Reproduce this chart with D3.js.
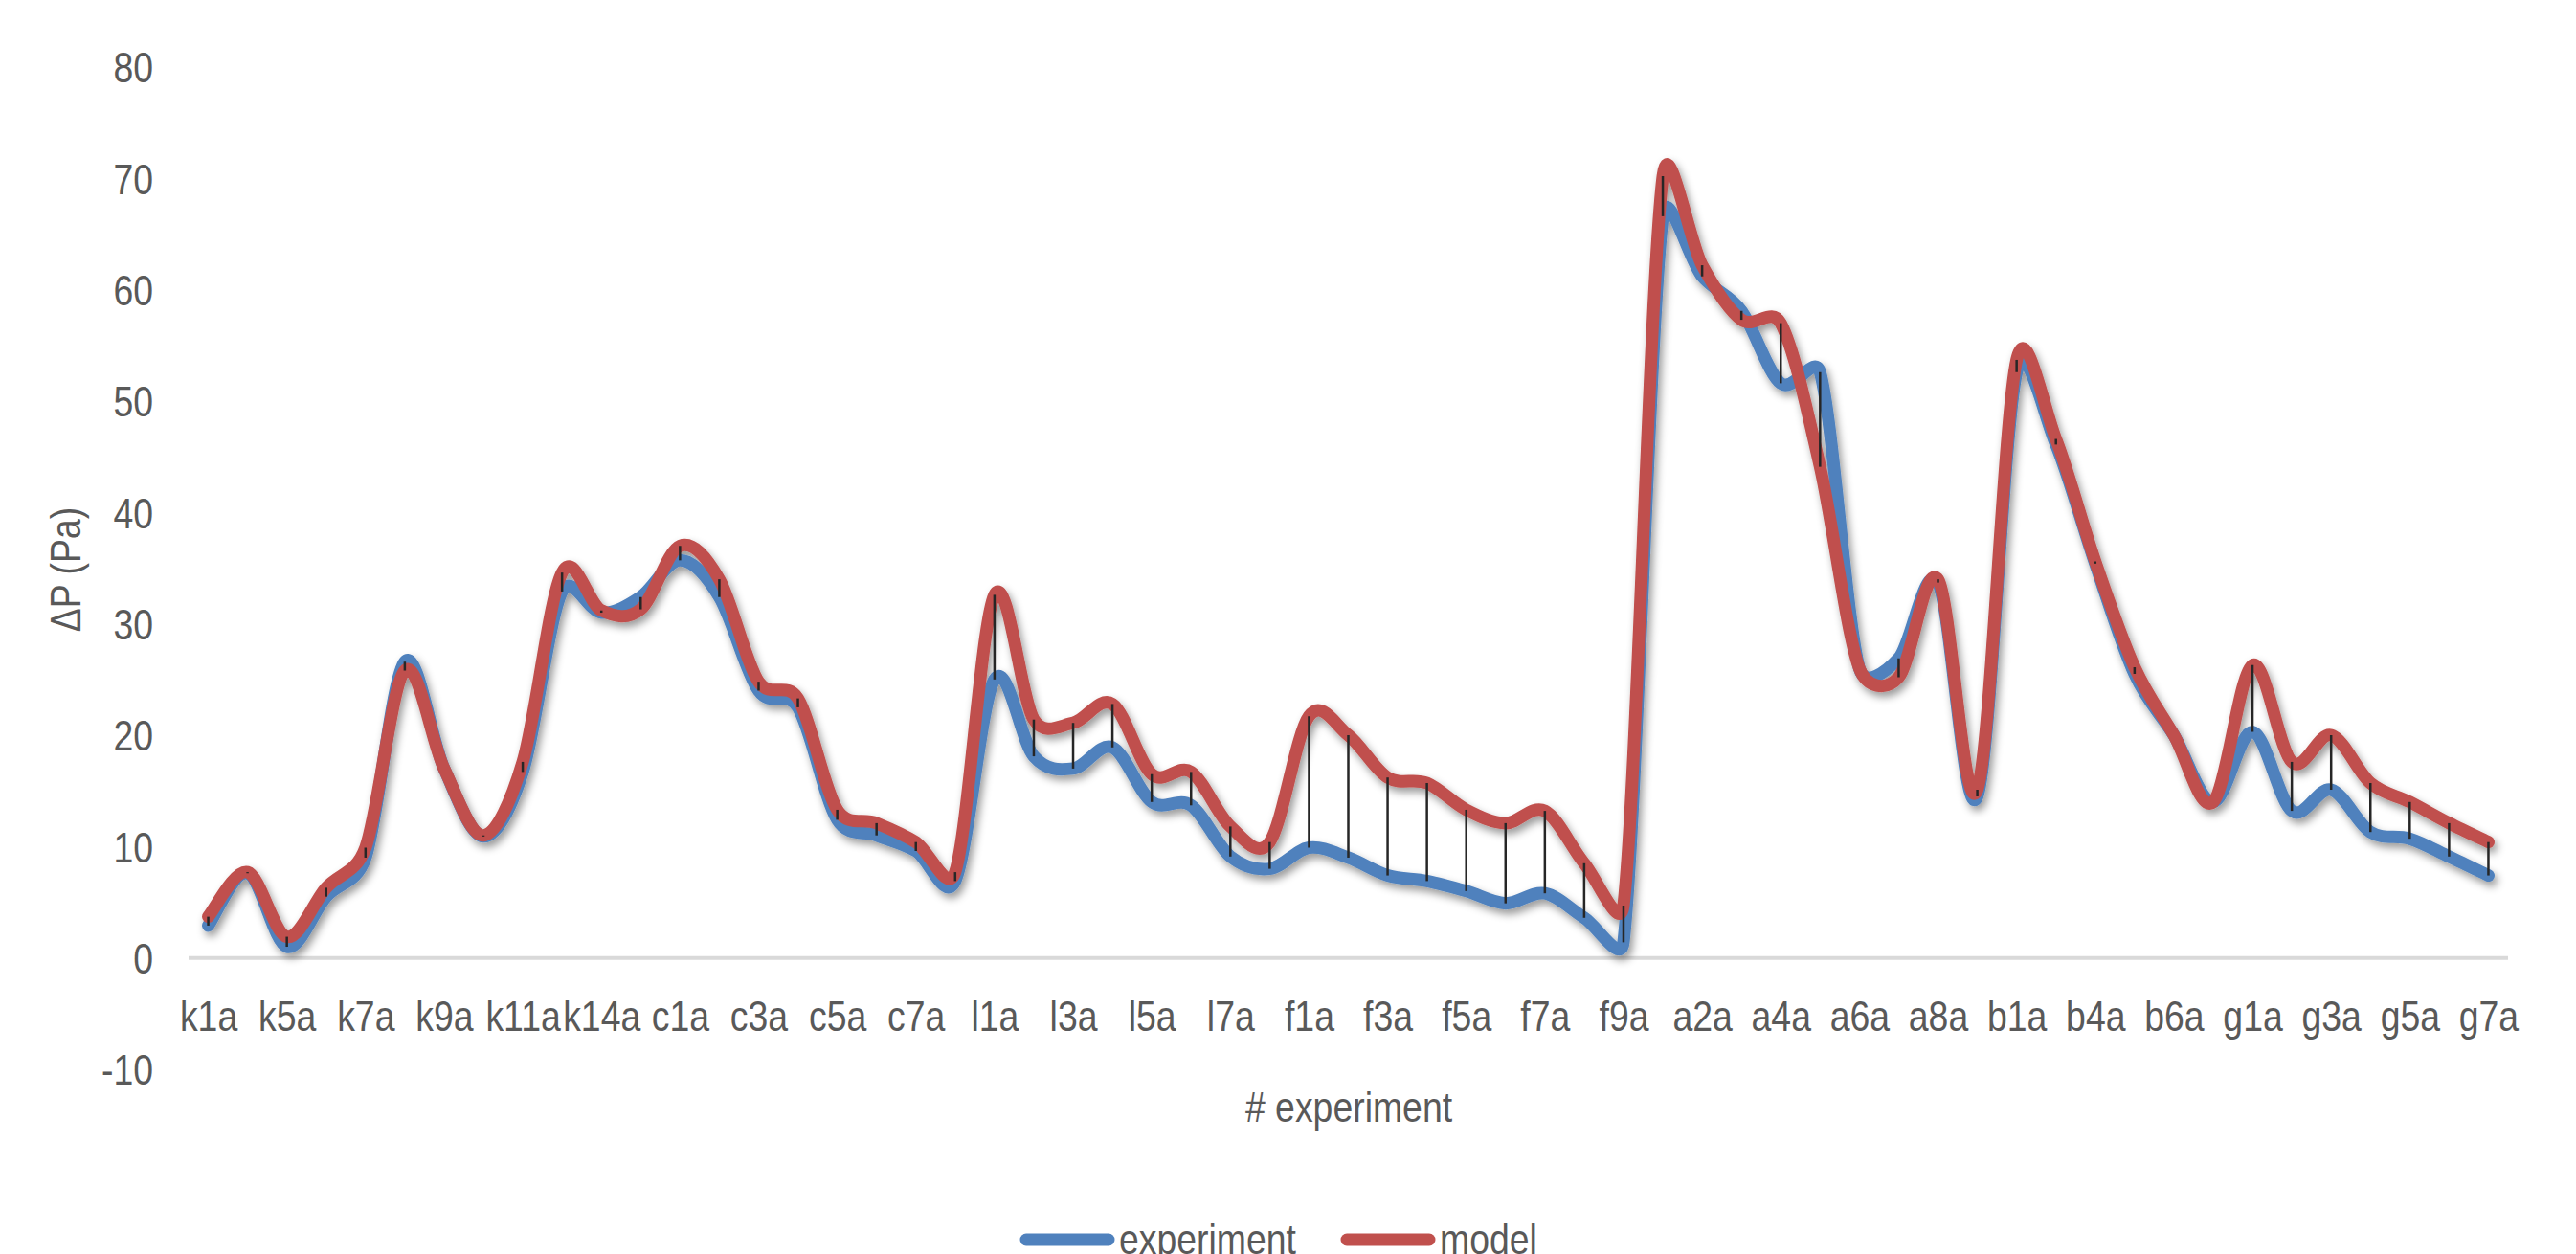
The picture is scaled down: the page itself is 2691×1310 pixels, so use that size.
<!doctype html>
<html lang="en">

<head>
    <meta charset="utf-8">
    <title>Pressure drop: experiment vs model</title>
    <script src="https://d3js.org/d3.v7.min.js"></script>
    <style>
        body {
            margin: 0;
            background: white;
        }

        text {
            font-family: "Liberation Sans", Arial, sans-serif;
            fill: #595959;
        }
    </style>
</head>

<body>
    <svg id="svg"></svg>

    <script>
        // experiment names, every other one is labelled on the axis
        let categories = [
            "k1a", "k3a", "k5a", "k6a", "k7a", "k8a", "k9a", "k10a", "k11a", "k12a",
            "k14a", "k15a", "c1a", "c2a", "c3a", "c4a", "c5a", "c6a", "c7a", "c8a",
            "l1a", "l2a", "l3a", "l4a", "l5a", "l6a", "l7a", "l8a", "f1a", "f2a",
            "f3a", "f4a", "f5a", "f6a", "f7a", "f8a", "f9a", "a1a", "a2a", "a3a",
            "a4a", "a5a", "a6a", "a7a", "a8a", "a9a", "b1a", "b2a", "b4a", "b5a",
            "b6a", "b7a", "g1a", "g2a", "g3a", "g4a", "g5a", "g6a", "g7a"
        ];

        let experiment = [
            2.9, 7.6, 1.0, 5.5, 9.0, 26.6, 17.0, 10.9, 16.7, 32.9,
            31.0, 32.4, 35.7, 32.4, 24.0, 22.5, 12.4, 11.0, 9.6, 6.9,
            25.0, 18.1, 17.0, 18.9, 14.0, 13.7, 9.1, 8.0, 9.9, 9.0,
            7.4, 6.9, 6.0, 4.9, 5.8, 3.6, 1.4, 66.6, 61.2, 58.1,
            51.6, 52.6, 26.0, 26.9, 33.7, 14.5, 52.6, 46.1, 35.4, 25.5,
            20.0, 14.0, 20.3, 13.2, 15.1, 11.3, 10.7, 9.1, 7.4
        ];

        let model = [
            3.7, 7.7, 1.9, 6.3, 9.9, 25.8, 17.0, 11.0, 17.6, 34.6,
            31.2, 31.3, 37.0, 34.0, 24.8, 23.3, 13.3, 12.1, 10.4, 7.7,
            32.6, 21.4, 21.1, 22.8, 16.5, 16.7, 11.8, 10.4, 21.7, 20.0,
            16.2, 15.7, 13.3, 12.1, 13.2, 8.5, 4.7, 70.2, 62.2, 57.3,
            57.0, 44.1, 26.0, 25.2, 34.0, 15.1, 53.7, 46.6, 35.6, 26.1,
            20.0, 14.0, 26.3, 17.6, 20.0, 15.7, 14.0, 12.1, 10.4
        ];

        let yTicks = [-10, 0, 10, 20, 30, 40, 50, 60, 70, 80];

        let seriesNames = ["experiment", "model"];
        let seriesColors = ["#4F81BD", "#C0504D"];

        let width = 2691, height = 1310;
        let fontSize = 44;
        let squeeze = "scale(0.85, 1)"; // narrow the glyphs like the original font

        let svg = d3.select("#svg")
            .attr("width", width)
            .attr("height", height);

        // soft shadow under the lines
        svg.append("defs").append("filter")
            .attr("id", "shadow")
            .attr("x", "-5%").attr("y", "-5%")
            .attr("width", "110%").attr("height", "115%")
            .append("feDropShadow")
            .attr("dx", 3)
            .attr("dy", 5)
            .attr("stdDeviation", 4)
            .attr("flood-color", "#000")
            .attr("flood-opacity", 0.4);

        let xScale = d3.scalePoint()
            .domain(categories)
            .range([197, 2620])
            .padding(0.5);

        let yScale = d3.scaleLinear()
            .domain([-10, 80])
            .range([1117, 70]);

        // Excel style smoothed line: Bezier segments whose handles are 1/6 of the
        // neighbour span, but never longer than half of the segment itself
        function smoothPath(values) {
            let pts = values.map((v, i) => [xScale(categories[i]), yScale(v)]);
            let dist = (a, b) => Math.hypot(b[0] - a[0], b[1] - a[1]);
            let p = d3.path();
            p.moveTo(pts[0][0], pts[0][1]);
            for (let i = 0; i < pts.length - 1; i++) {
                let p0 = pts[Math.max(i - 1, 0)], p1 = pts[i], p2 = pts[i + 1], p3 = pts[Math.min(i + 2, pts.length - 1)];
                let d12 = dist(p1, p2), d02 = dist(p0, p2), d13 = dist(p1, p3);
                let f0 = d02 / 6 < d12 / 2 ? 1 / 6 : d12 / d02 / 2;
                let f1 = d13 / 6 < d12 / 2 ? 1 / 6 : d12 / d13 / 2;
                p.bezierCurveTo(
                    p1[0] + f0 * (p2[0] - p0[0]), p1[1] + f0 * (p2[1] - p0[1]),
                    p2[0] - f1 * (p3[0] - p1[0]), p2[1] - f1 * (p3[1] - p1[1]),
                    p2[0], p2[1]);
            }
            return p.toString();
        }

        // y axis: labels only
        let yAxis = svg.append("g")
            .attr("transform", "translate(160, 0)")
            .call(d3.axisLeft(yScale)
                .tickValues(yTicks)
                .tickFormat(d => String(d))
                .tickSize(0)
                .tickPadding(0));
        yAxis.select(".domain").remove();
        yAxis.attr("font-family", null).attr("font-size", null);
        yAxis.selectAll("text")
            .attr("font-size", fontSize)
            .attr("dy", "0.36em")
            .attr("transform", squeeze);

        // horizontal axis line at zero
        svg.append("line")
            .attr("x1", 197)
            .attr("x2", 2620)
            .attr("y1", yScale(0))
            .attr("y2", yScale(0))
            .attr("stroke", "#D9D9D9")
            .attr("stroke-width", 4);

        // x axis labels under the plot, every other category
        let xAxis = svg.append("g")
            .attr("transform", "translate(0, 1046)")
            .call(d3.axisBottom(xScale)
                .tickValues(categories.filter((d, i) => i % 2 === 0))
                .tickSize(0)
                .tickPadding(0));
        xAxis.select(".domain").remove();
        xAxis.attr("font-family", null).attr("font-size", null);
        xAxis.selectAll("text")
            .attr("font-size", fontSize)
            .attr("dy", "0.71em")
            .attr("transform", squeeze);

        let lines = svg.append("g").attr("filter", "url(#shadow)");
        [experiment, model].forEach((values, k) => {
            lines.append("path")
                .attr("d", smoothPath(values))
                .attr("fill", "none")
                .attr("stroke", seriesColors[k])
                .attr("stroke-width", 13)
                .attr("stroke-linejoin", "round")
                .attr("stroke-linecap", "round");
        });

        // high-low lines between the two series
        svg.append("g")
            .selectAll("line")
            .data(categories)
            .join("line")
            .attr("x1", d => xScale(d))
            .attr("x2", d => xScale(d))
            .attr("y1", (d, i) => yScale(experiment[i]))
            .attr("y2", (d, i) => yScale(model[i]))
            .attr("stroke", "#262626")
            .attr("stroke-width", 2.5);

        // axis titles
        svg.append("text")
            .attr("transform", "translate(1409, 1172) " + squeeze)
            .attr("text-anchor", "middle")
            .attr("font-size", fontSize)
            .text("# experiment");

        svg.append("text")
            .attr("transform", "translate(84, 595) rotate(-90) " + squeeze)
            .attr("text-anchor", "middle")
            .attr("font-size", fontSize)
            .text("ΔP (Pa)");

        // legend
        let legend = svg.append("g");
        let legendX = [1072, 1407];
        seriesNames.forEach((name, k) => {
            legend.append("line")
                .attr("x1", legendX[k])
                .attr("x2", legendX[k] + 86)
                .attr("y1", 1295)
                .attr("y2", 1295)
                .attr("stroke", seriesColors[k])
                .attr("stroke-width", 13)
                .attr("stroke-linecap", "round");
            legend.append("text")
                .attr("transform", `translate(${legendX[k] + 97}, 1310) ${squeeze}`)
                .attr("font-size", fontSize)
                .text(name);
        });
    </script>
</body>

</html>
